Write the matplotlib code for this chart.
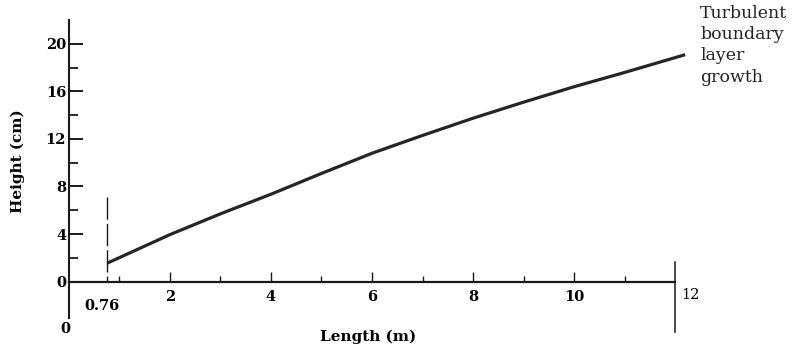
import numpy as np
import matplotlib.pyplot as plt
from matplotlib.ticker import FixedLocator

plt.rcParams['font.family'] = 'DejaVu Serif'

# boundary layer height
length_m = [0.76, 2, 3, 4, 5, 6, 7, 8, 9, 10, 11, 12.2]
height_cm = [1.55, 3.95, 5.7, 7.35, 9.1, 10.8, 12.3, 13.75, 15.1, 16.4, 17.6, 19.1]

x_major = [2, 4, 6, 8, 10]
x_minor = [1, 3, 5, 7, 9, 11]
y_major = [0, 4, 8, 12, 16, 20]
y_minor = [2, 6, 10, 14, 18]
x_transition = 0.76
x_end = 12

fig = plt.figure(figsize=(7.94, 3.49), dpi=100)
ax = fig.add_axes([0, 0, 1, 1])
ax.set_xlim(-1.366, 14.356)
ax.set_ylim(-5.684, 23.705)

# axes drawn through the origin, like the book figure
for side in ['top', 'right']:
    ax.spines[side].set_visible(False)
ax.spines['left'].set_position(('data', 0))
ax.spines['bottom'].set_position(('data', 0))
ax.spines['left'].set_bounds(-3.1, 22.0)
ax.spines['bottom'].set_bounds(0, x_end)
ax.spines['left'].set_linewidth(1.5)
ax.spines['bottom'].set_linewidth(1.6)
ax.spines['left'].set_color('#1a1a1a')
ax.spines['bottom'].set_color('#1a1a1a')

ax.xaxis.set_major_locator(FixedLocator(x_major))
ax.xaxis.set_minor_locator(FixedLocator(x_minor))
ax.yaxis.set_major_locator(FixedLocator(y_major))
ax.yaxis.set_minor_locator(FixedLocator(y_minor))
ax.set_xticklabels([str(v) for v in x_major], fontweight='bold')
ax.set_yticklabels([str(v) for v in y_major], fontweight='bold')

ax.tick_params(axis='y', which='major', direction='in', length=10, width=1.4,
               pad=2, labelsize=10.5, color='#1a1a1a')
ax.tick_params(axis='y', which='minor', direction='in', length=6.5, width=1.3,
               color='#1a1a1a')
ax.tick_params(axis='x', which='major', direction='in', length=7, width=1.0,
               pad=6, labelsize=10.5, color='#1a1a1a')
ax.tick_params(axis='x', which='minor', direction='in', length=4, width=1.0,
               color='#1a1a1a')

# boundary layer curve
ax.plot(length_m, height_cm, color='#252525', lw=2.3, solid_capstyle='butt')

# transition marker and end of plate
ax.plot([x_transition, x_transition], [7.1, 0], color='#1a1a1a', lw=1.0,
        dashes=(16, 3))
ax.plot([x_end, x_end], [1.64, -4.25], color='#1a1a1a', lw=1.1)

ax.text(0.66, -2.1, '0.76', ha='center', va='center', fontsize=10.5,
        fontweight='bold')
ax.text(-0.08, -4.0, '0', ha='center', va='center', fontsize=10.5,
        fontweight='bold')
ax.text(12.3, -1.1, '12', ha='center', va='center', fontsize=10.5)

ax.text(5.92, -4.67, 'Length (m)', ha='center', va='center', fontsize=11,
        fontweight='bold')
ax.text(-1.01, 10.1, 'Height (cm)', ha='center', va='center', fontsize=11,
        fontweight='bold', rotation=90)

ax.text(12.5, 23.3, 'Turbulent\nboundary\nlayer\ngrowth', ha='left', va='top',
        fontsize=12.5, linespacing=1.33, color='#222222')

fig.savefig('out.png', dpi=100)
